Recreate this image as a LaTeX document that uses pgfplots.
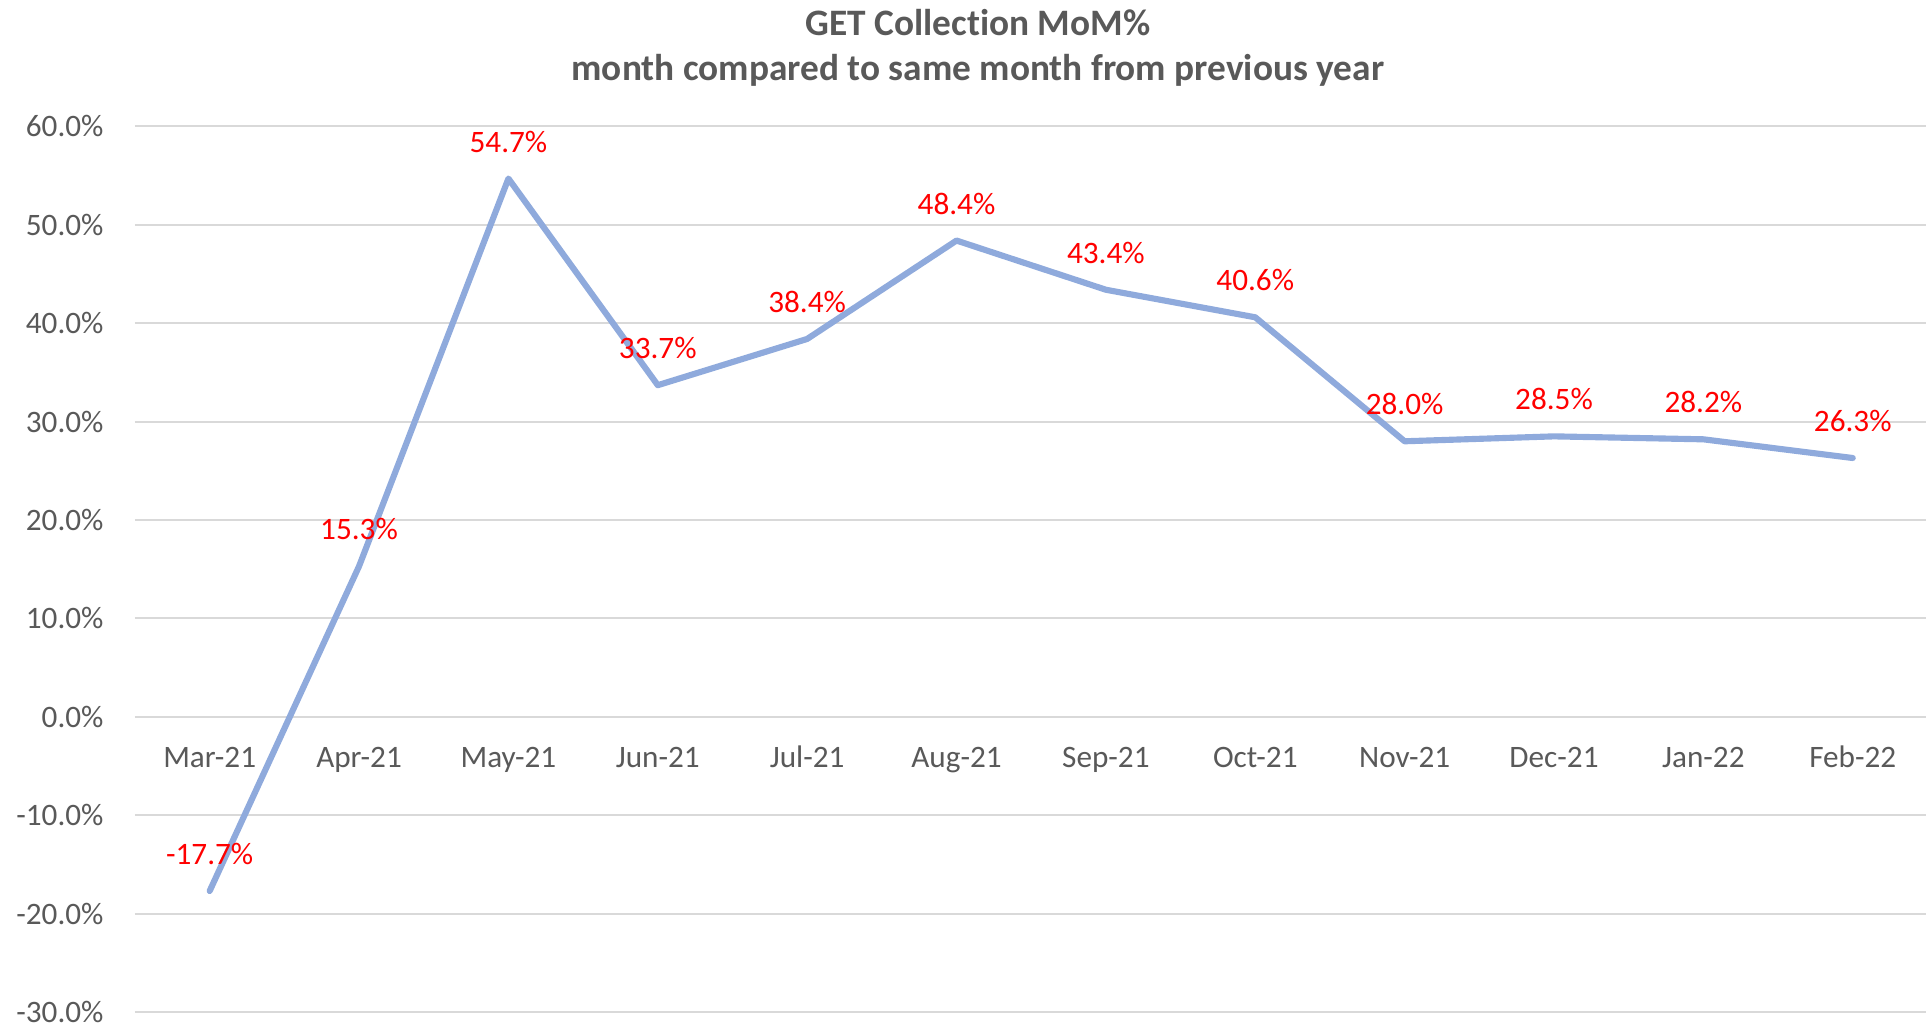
\documentclass[border=0pt]{standalone}
\usepackage{fontspec}
\setmainfont{Carlito}[Ligatures=NoCommon]
\usepackage{pgfplots}
\pgfplotsset{compat=1.18}
\definecolor{linecol}{HTML}{8FAADC}
\definecolor{gridcol}{HTML}{D9D9D9}
\definecolor{txtgray}{HTML}{595959}
\definecolor{lblred}{HTML}{FF0000}
\begin{document}
\begin{tikzpicture}
\path[use as bounding box] (-50.625pt,-5.25pt) rectangle (671.625pt,379.5pt);
\begin{axis}[
  at={(0pt,0pt)}, anchor=south west,
  scale only axis,
  width=671.6pt, height=332.1pt,
  xmin=-0.5, xmax=11.49,
  ymin=-30, ymax=60,
  ytick={-30,-20,...,60},
  xtick={0,...,11},
  xticklabels={Mar-21,Apr-21,May-21,Jun-21,Jul-21,Aug-21,Sep-21,Oct-21,Nov-21,Dec-21,Jan-22,Feb-22},
  axis x line=middle,
  axis y line=left,
  x axis line style={draw=gridcol, line width=0.7pt, -},
  y axis line style={draw=none},
  major tick length=0pt,
  ymajorgrids,
  major grid style={draw=gridcol, line width=0.7pt},
  /pgf/number format/assume math mode=true,
  yticklabel={\pgfmathprintnumber[fixed,fixed zerofill,precision=1]{\tick}\%},
  yticklabel style={anchor=east, inner sep=0pt, xshift=-11.6pt, text=txtgray, font=\fontsize{11.7}{13}\selectfont},
  xticklabel style={anchor=base, inner sep=0pt, yshift=-19.1pt, text=txtgray, font=\fontsize{11.7}{13}\selectfont},
  clip=false,
]
\addplot[color=linecol, line width=2.3pt, line cap=round, line join=round,
  nodes near coords={\pgfmathprintnumber[fixed,fixed zerofill,precision=1]{\pgfplotspointmeta}\%},
  nodes near coords style={anchor=center, inner sep=0pt, yshift=13.9pt, text=lblred, font=\fontsize{11.7}{13}\selectfont},
  point meta=explicit symbolic]
  table[meta=l] {
x y l
0 -17.7 -17.7
1 15.3 15.3
2 54.7 54.7
3 33.7 33.7
4 38.4 38.4
5 48.4 48.4
6 43.4 43.4
7 40.6 40.6
8 28.0 28.0
9 28.5 28.5
10 28.2 28.2
11 26.3 26.3
};
\end{axis}
\node[font=\bfseries\fontsize{14}{16.9}\selectfont, text=txtgray, align=center] at (316.1pt,361.5pt) {GET Collection MoM\%\\month compared to same month from previous year};
\end{tikzpicture}
\end{document}
